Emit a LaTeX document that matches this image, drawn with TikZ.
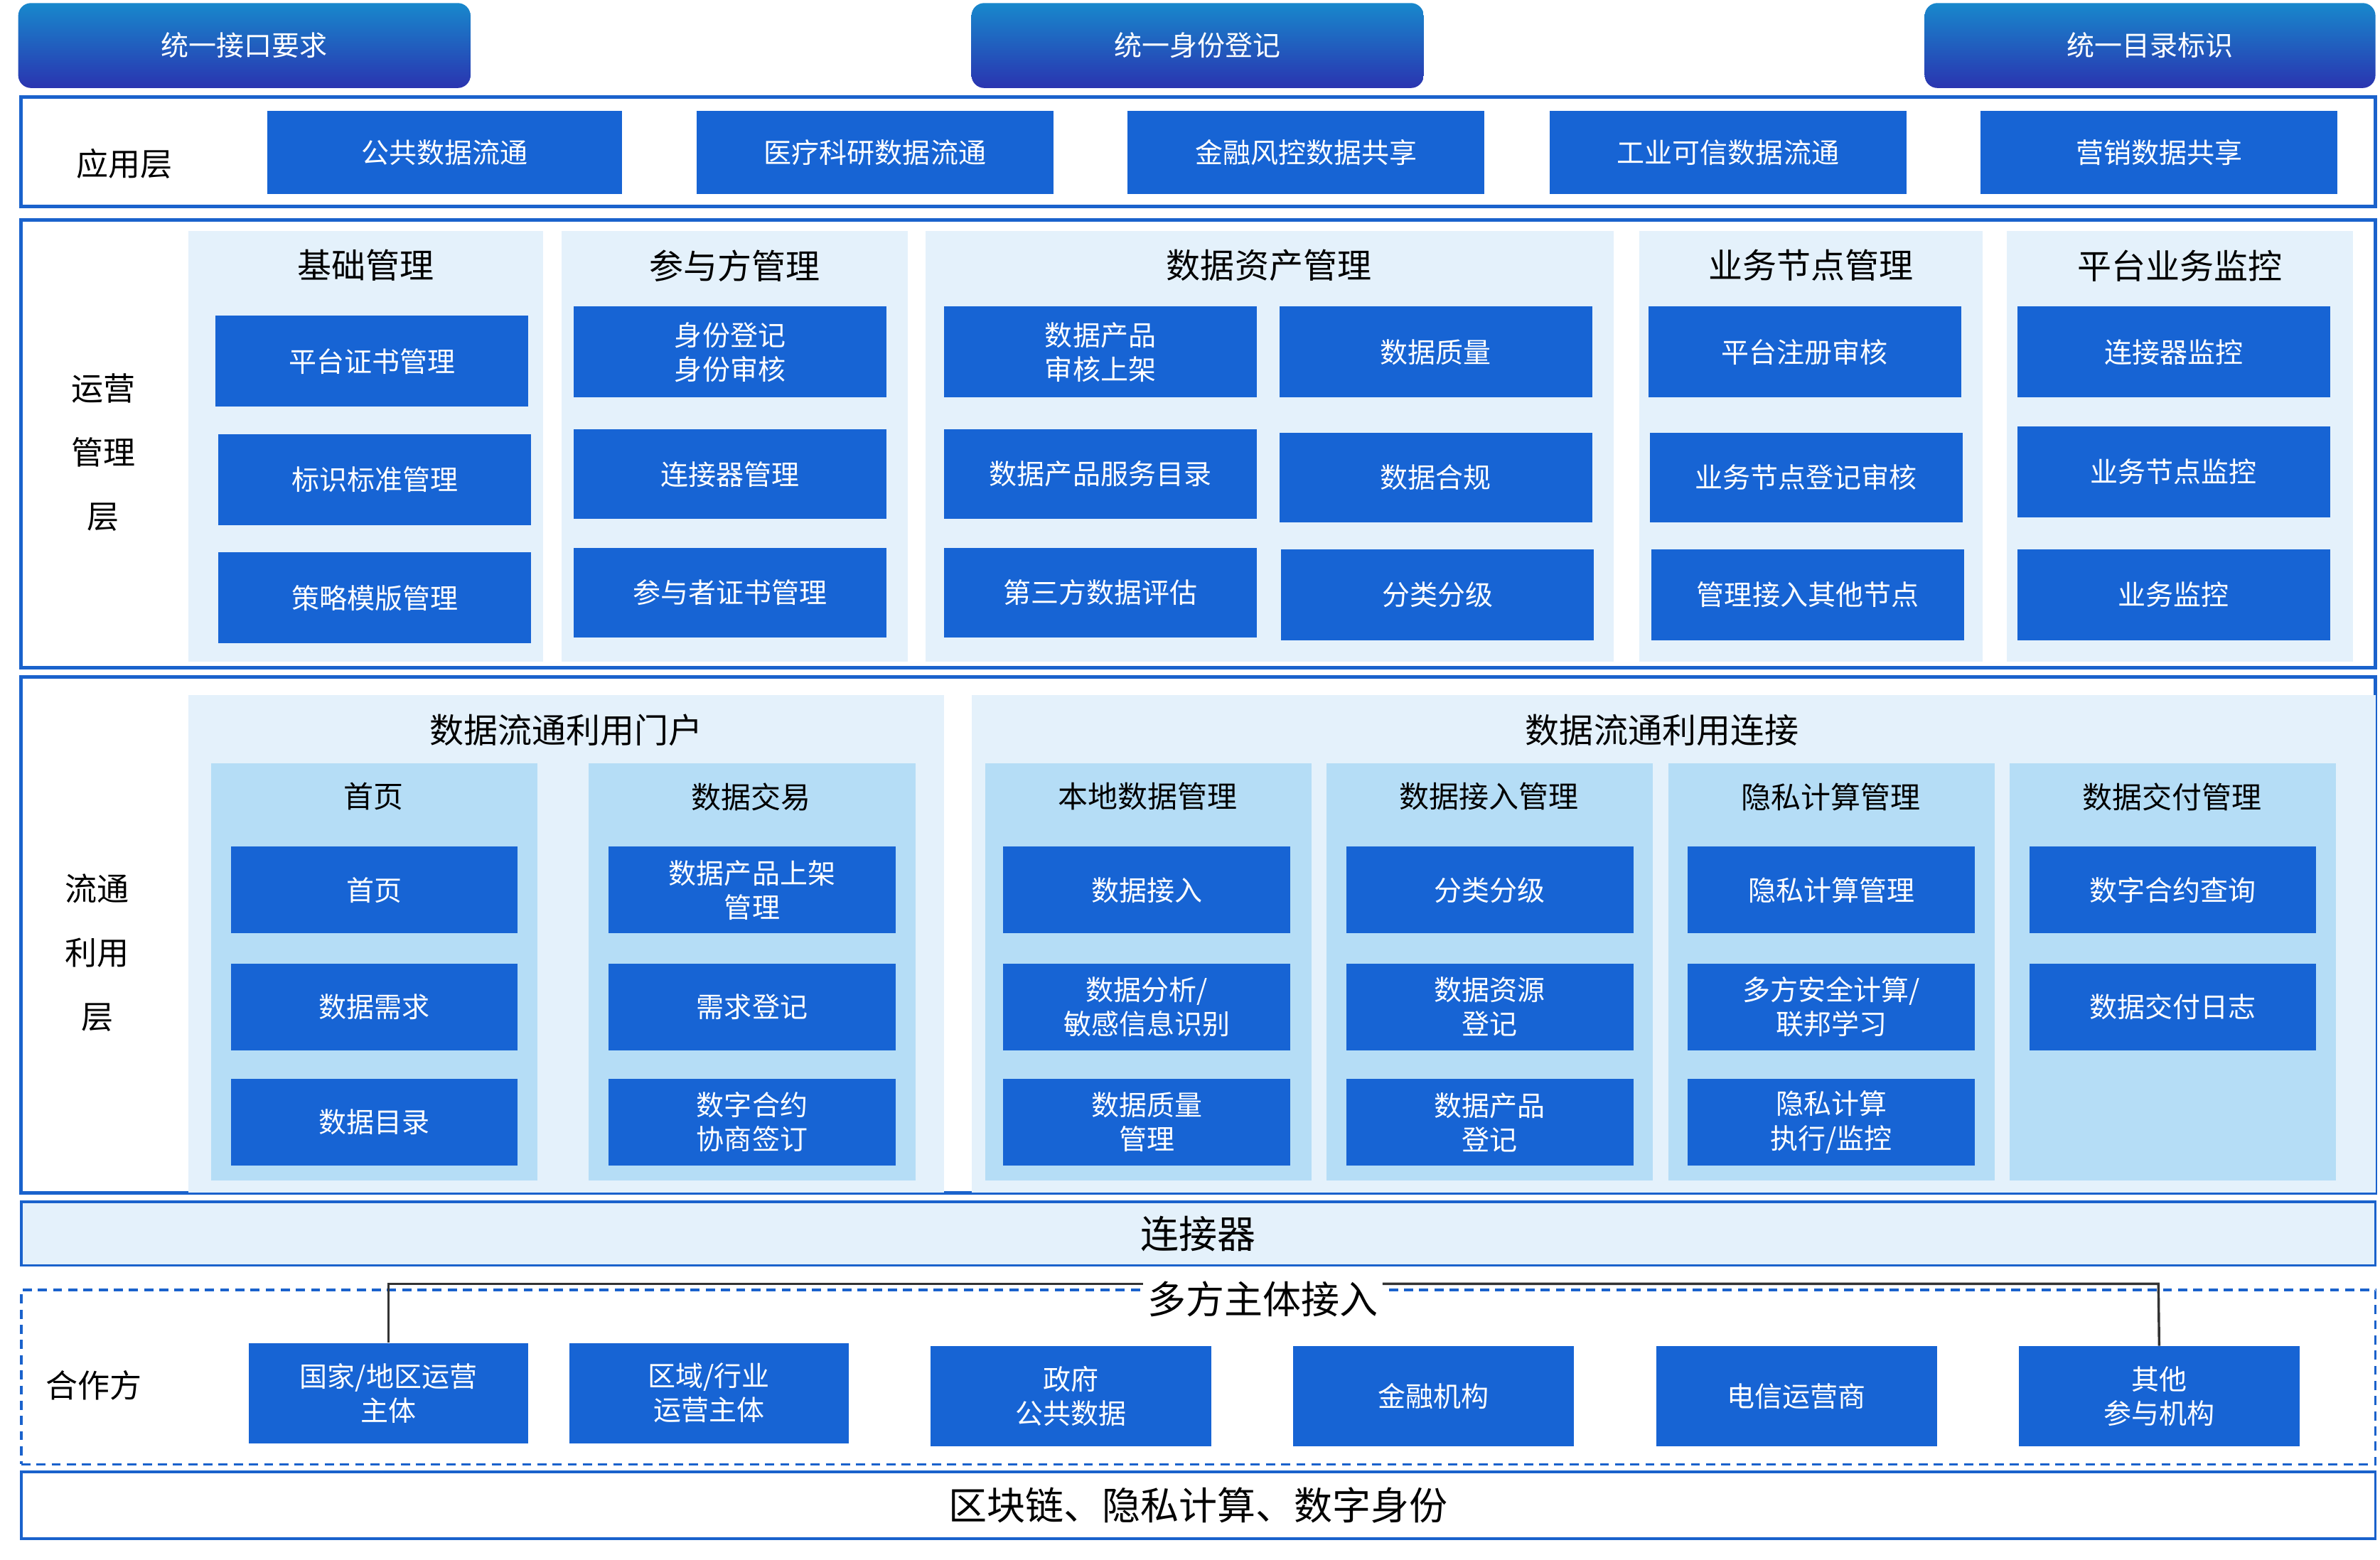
\documentclass[tikz,border=0pt]{standalone}
\usepackage{fontspec}
\setmainfont{Noto Sans CJK SC}
\usetikzlibrary{fit}
\definecolor{bxc}{HTML}{1764D4}
\definecolor{frc}{HTML}{1A62CC}
\definecolor{pl}{HTML}{E4F1FB}
\definecolor{pl2}{HTML}{B5DDF6}
\definecolor{tabt}{HTML}{1888CC}
\definecolor{tabb}{HTML}{2A34B0}
\tikzset{
 bx/.style={fill=bxc,text=white,inner sep=0pt,align=center,font=\fontsize{26}{32}\selectfont},
 tab/.style={top color=tabt,bottom color=tabb,rounded corners=12pt,text=white,inner sep=0pt,font=\fontsize{26}{32}\selectfont},
 frame/.style={draw=frc,line width=1.2mm,inner sep=0pt},
 panel/.style={fill=pl,inner sep=0pt},
 panel2/.style={fill=pl2,inner sep=0pt},
 ttl/.style={font=\fontsize{32}{36}\selectfont},
 sttl/.style={font=\fontsize{28}{32}\selectfont},
 lbl/.style={font=\fontsize{30}{60}\selectfont,align=center},
}
\newcommand\B[6]{\node[bx,fit={(#2,#3)(#4,#5)}] (#1) {}; \node[bx] at (#1.center) {#6};}
\newcommand\PN[6]{\node[#6,fit={(#2,#3)(#4,#5)}] (#1) {};}
\begin{document}
\begin{tikzpicture}[x=0.5mm,y=-0.5mm]
\useasboundingbox[fill=white] (0,0) rectangle (1568,1028);
% tabs
\node[tab,fit={(12,2)(310,58)}] (t1) {}; \node[text=white,font=\fontsize{26}{32}\selectfont] at (t1.center) {统一接口要求};
\node[tab,fit={(640,2)(938,58)}] (t2) {}; \node[text=white,font=\fontsize{26}{32}\selectfont] at (t2.center) {统一身份登记};
\node[tab,fit={(1268,2)(1565,58)}] (t3) {}; \node[text=white,font=\fontsize{26}{32}\selectfont] at (t3.center) {统一目录标识};
% application layer
\PN{app}{14}{64}{1565}{136}{frame}
\node[lbl] (appl) at (82,108) {应用层};
\B{a1}{176}{73}{410}{128}{公共数据流通}
\B{a2}{459}{73}{694}{128}{医疗科研数据流通}
\B{a3}{743}{73}{978}{128}{金融风控数据共享}
\B{a4}{1021}{73}{1256}{128}{工业可信数据流通}
\B{a5}{1305}{73}{1540}{128}{营销数据共享}
% ops layer
\PN{ops}{14}{145}{1565}{440}{frame}
\node[lbl] (opsl) at (68,298) {运营\\管理\\层};
\PN{p1}{124}{152}{358}{436}{panel}
\PN{p2}{370}{152}{598}{436}{panel}
\PN{p3}{610}{152}{1063}{436}{panel}
\PN{p4}{1080}{152}{1306}{436}{panel}
\PN{p5}{1322}{152}{1550}{436}{panel}
\node[ttl] at (241,175) {基础管理};
\node[ttl] at (484,175) {参与方管理};
\node[ttl] at (836,175) {数据资产管理};
\node[ttl] at (1193,175) {业务节点管理};
\node[ttl] at (1436,175) {平台业务监控};
\B{o11}{142}{208}{348}{268}{平台证书管理}
\B{o12}{144}{286}{350}{346}{标识标准管理}
\B{o13}{144}{364}{350}{424}{策略模版管理}
\B{o21}{378}{202}{584}{262}{身份登记\\身份审核}
\B{o22}{378}{283}{584}{342}{连接器管理}
\B{o23}{378}{361}{584}{420}{参与者证书管理}
\B{o31}{622}{202}{828}{262}{数据产品\\审核上架}
\B{o32}{622}{283}{828}{342}{数据产品服务目录}
\B{o33}{622}{361}{828}{420}{第三方数据评估}
\B{o41}{843}{202}{1049}{262}{数据质量}
\B{o42}{843}{285}{1049}{344}{数据合规}
\B{o43}{844}{362}{1050}{422}{分类分级}
\B{o51}{1086}{202}{1292}{262}{平台注册审核}
\B{o52}{1087}{285}{1293}{344}{业务节点登记审核}
\B{o53}{1088}{362}{1294}{422}{管理接入其他节点}
\B{o61}{1329}{202}{1535}{262}{连接器监控}
\B{o62}{1329}{281}{1535}{341}{业务节点监控}
\B{o63}{1329}{362}{1535}{422}{业务监控}
% circulation layer
\PN{cir}{14}{446}{1565}{786}{frame}
\node[lbl] (cirl) at (64,628) {流通\\利用\\层};
\PN{q1}{124}{458}{622}{786}{panel}
\PN{q2}{640}{458}{1565}{786}{panel}
\node[ttl] at (373,481) {数据流通利用门户};
\node[ttl] at (1095,481) {数据流通利用连接};
\PN{s1}{139}{503}{354}{778}{panel2}
\PN{s2}{388}{503}{603}{778}{panel2}
\PN{s3}{649}{503}{864}{778}{panel2}
\PN{s4}{874}{503}{1089}{778}{panel2}
\PN{s5}{1099}{503}{1314}{778}{panel2}
\PN{s6}{1324}{503}{1539}{778}{panel2}
\node[sttl] at (246,525) {首页};
\node[sttl] at (495,525) {数据交易};
\node[sttl] at (756,525) {本地数据管理};
\node[sttl] at (981,525) {数据接入管理};
\node[sttl] at (1206,525) {隐私计算管理};
\node[sttl] at (1431,525) {数据交付管理};
\B{c11}{152}{558}{341}{615}{首页}
\B{c12}{152}{635}{341}{692}{数据需求}
\B{c13}{152}{711}{341}{768}{数据目录}
\B{c21}{401}{558}{590}{615}{数据产品上架\\管理}
\B{c22}{401}{635}{590}{692}{需求登记}
\B{c23}{401}{711}{590}{768}{数字合约\\协商签订}
\B{c31}{661}{558}{850}{615}{数据接入}
\B{c32}{661}{635}{850}{692}{数据分析/\\敏感信息识别}
\B{c33}{661}{711}{850}{768}{数据质量\\管理}
\B{c41}{887}{558}{1076}{615}{分类分级}
\B{c42}{887}{635}{1076}{692}{数据资源\\登记}
\B{c43}{887}{711}{1076}{768}{数据产品\\登记}
\B{c51}{1112}{558}{1301}{615}{隐私计算管理}
\B{c52}{1112}{635}{1301}{692}{多方安全计算/\\联邦学习}
\B{c53}{1112}{711}{1301}{768}{隐私计算\\执行/监控}
\B{c61}{1337}{558}{1526}{615}{数字合约查询}
\B{c62}{1337}{635}{1526}{692}{数据交付日志}
% connector bar
\node[draw=frc,line width=0.8mm,fill=pl,inner sep=0pt,fit={(14,792)(1565,834)}] (conn) {};
\node[font=\fontsize{36}{40}\selectfont] at (conn.center) {连接器};
% partners
\node[draw=frc,line width=0.8mm,dash pattern=on 3mm off 2mm,inner sep=0pt,fit={(14,850)(1565,965)}] (part) {};
\node[lbl] (partl) at (62,913) {合作方};
\B{m1}{164}{885}{348}{951}{国家/地区运营\\主体}
\B{m2}{375}{885}{559}{951}{区域/行业\\运营主体}
\B{m3}{613}{887}{798}{953}{政府\\公共数据}
\B{m4}{852}{887}{1037}{953}{金融机构}
\B{m5}{1091}{887}{1276}{953}{电信运营商}
\B{m6}{1330}{887}{1515}{953}{其他\\参与机构}
\node[fill=white,font=\fontsize{36}{40}\selectfont,inner sep=4pt] (multi) at (832,856) {多方主体接入};
\coordinate (ml) at (256,846); \coordinate (mr) at (1422,846);
\draw[line width=0.8mm,draw=black!80] (m1.north) -- (ml) -- (multi.west|-ml);
\draw[line width=0.8mm,draw=black!80] (multi.east|-mr) -- (mr) -- (m6.north);
% bottom
\node[draw=frc,line width=0.8mm,fill=white,inner sep=0pt,fit={(14,970)(1565,1014)}] (base) {};
\node[font=\fontsize{36}{40}\selectfont] at (base.center) {区块链、隐私计算、数字身份};
\end{tikzpicture}
\end{document}
